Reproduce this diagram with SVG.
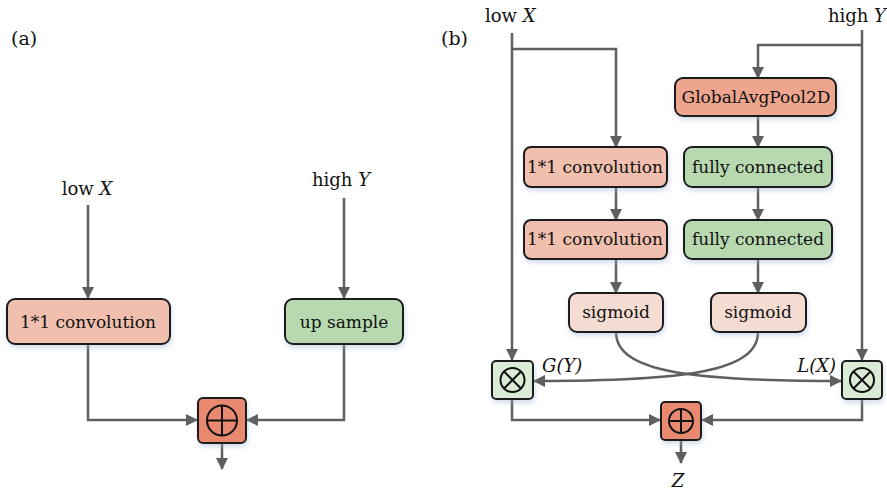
<svg xmlns="http://www.w3.org/2000/svg" width="887" height="492" viewBox="0 0 887 492">
<defs>
<marker id="ah" markerWidth="12" markerHeight="12" viewBox="0 0 12 12" refX="11" refY="6" orient="auto" markerUnits="userSpaceOnUse">
<path d="M0,0 L12,6 L0,12 Z" fill="#5f5f5f"/>
</marker>
<filter id="sh" x="-20%" y="-20%" width="140%" height="160%">
<feDropShadow dx="1" dy="3" stdDeviation="2.5" flood-color="#9fb4d6" flood-opacity="0.45"/>
</filter>
<style>
.t{font-family:"DejaVu Serif","Liberation Serif",serif;font-size:17px;fill:#111;text-anchor:middle}
.lb{font-family:"DejaVu Serif","Liberation Serif",serif;font-size:18px;fill:#111}
.i{font-style:italic}
.box{stroke:#1c1c1c;stroke-width:2;filter:url(#sh)}
.conv{fill:#f0bfae}
.green{fill:#b8d8b0}
.gap{fill:#eda58d}
.sig{fill:#f5dcd2}
.mul{fill:#dcebd6}
.add{fill:#e98a70}
.ln{fill:none;stroke:#5f5f5f;stroke-width:2.5}
.arr{marker-end:url(#ah)}
.sym{fill:none;stroke:#111;stroke-width:2}
</style>
</defs>

<text class="lb" x="11" y="45" style="font-size:19px">(a)</text>
<text class="lb" x="441" y="45" style="font-size:19px">(b)</text>

<g id="connectors">
<path class="ln arr" d="M88,205 V298"/>
<path class="ln arr" d="M344,198 V298"/>
<path class="ln arr" d="M88,344 V420 H197"/>
<path class="ln arr" d="M344,344 V420 H247"/>
<path class="ln arr" d="M222,443 V469"/>
<path class="ln arr" d="M512,33 V360"/>
<path class="ln arr" d="M512,49 H616 V147"/>
<path class="ln arr" d="M862,30 V360"/>
<path class="ln arr" d="M862,45 H758 V78"/>
<path class="ln arr" d="M758,116 V147"/>
<path class="ln arr" d="M616,187 V220"/>
<path class="ln arr" d="M758,187 V220"/>
<path class="ln arr" d="M616,259 V293"/>
<path class="ln arr" d="M758,259 V293"/>
<path class="ln arr" d="M616,332 C616,372 690,381 841,381"/>
<path class="ln arr" d="M758,332 C758,372 684,381 534,381"/>
<path class="ln arr" d="M512,399 V420 H660"/>
<path class="ln arr" d="M862,399 V420 H702"/>
<path class="ln arr" d="M681,440 V463"/>
</g>

<g id="a-lowX"><text class="lb" x="87" y="195" text-anchor="middle">low <tspan class="i">X</tspan></text></g>
<g id="a-highY"><text class="lb" x="341" y="186" text-anchor="middle">high <tspan class="i">Y</tspan></text></g>
<g id="a-conv"><rect class="box conv" x="7" y="299" width="163" height="45" rx="8"/><text class="t" x="88" y="328">1*1 convolution</text></g>
<g id="a-up"><rect class="box green" x="285" y="299" width="118" height="45" rx="8"/><text class="t" x="344" y="328">up sample</text></g>
<g id="a-add"><rect class="box add" x="198" y="398" width="48" height="45" rx="5"/><circle class="sym" cx="222" cy="420.5" r="15"/><path class="sym" d="M207,420.5 H237 M222,405.5 V435.5"/></g>

<g id="b-lowX"><text class="lb" x="485" y="22">low <tspan class="i">X</tspan></text></g>
<g id="b-highY"><text class="lb" x="886" y="22" text-anchor="end">high <tspan class="i">Y</tspan></text></g>
<g id="b-gap"><rect class="box gap" x="675" y="78" width="161" height="38" rx="8"/><text class="t" x="756" y="103">GlobalAvgPool2D</text></g>
<g id="b-conv1"><rect class="box conv" x="524" y="147" width="143" height="40" rx="7"/><text class="t" x="595" y="173">1*1 convolution</text></g>
<g id="b-fc1"><rect class="box green" x="684" y="147" width="148" height="40" rx="8"/><text class="t" x="758" y="173">fully connected</text></g>
<g id="b-conv2"><rect class="box conv" x="524" y="220" width="143" height="39" rx="7"/><text class="t" x="595" y="245">1*1 convolution</text></g>
<g id="b-fc2"><rect class="box green" x="684" y="220" width="148" height="39" rx="8"/><text class="t" x="758" y="245">fully connected</text></g>
<g id="b-sig1"><rect class="box sig" x="569" y="293" width="94" height="39" rx="8"/><text class="t" x="616" y="318">sigmoid</text></g>
<g id="b-sig2"><rect class="box sig" x="711" y="293" width="95" height="39" rx="8"/><text class="t" x="758" y="318">sigmoid</text></g>
<g id="b-mulL"><rect class="box mul" x="492" y="361" width="41" height="38" rx="4"/><circle class="sym" cx="512.5" cy="380" r="12"/><path class="sym" d="M504,371.5 L521,388.5 M521,371.5 L504,388.5"/></g>
<g id="b-mulR"><rect class="box mul" x="842" y="361" width="40" height="38" rx="4"/><circle class="sym" cx="862" cy="380" r="12"/><path class="sym" d="M853.5,371.5 L870.5,388.5 M870.5,371.5 L853.5,388.5"/></g>
<g id="b-gy"><text class="lb i" x="542" y="372">G(Y)</text></g>
<g id="b-lx"><text class="lb i" x="836" y="372" text-anchor="end">L(X)</text></g>
<g id="b-add"><rect class="box add" x="661" y="402" width="40" height="38" rx="4"/><circle class="sym" cx="681" cy="421" r="12"/><path class="sym" d="M669,421 H693 M681,409 V433"/></g>
<g id="b-z"><text class="lb i" x="678" y="487" text-anchor="middle">Z</text></g>
</svg>
